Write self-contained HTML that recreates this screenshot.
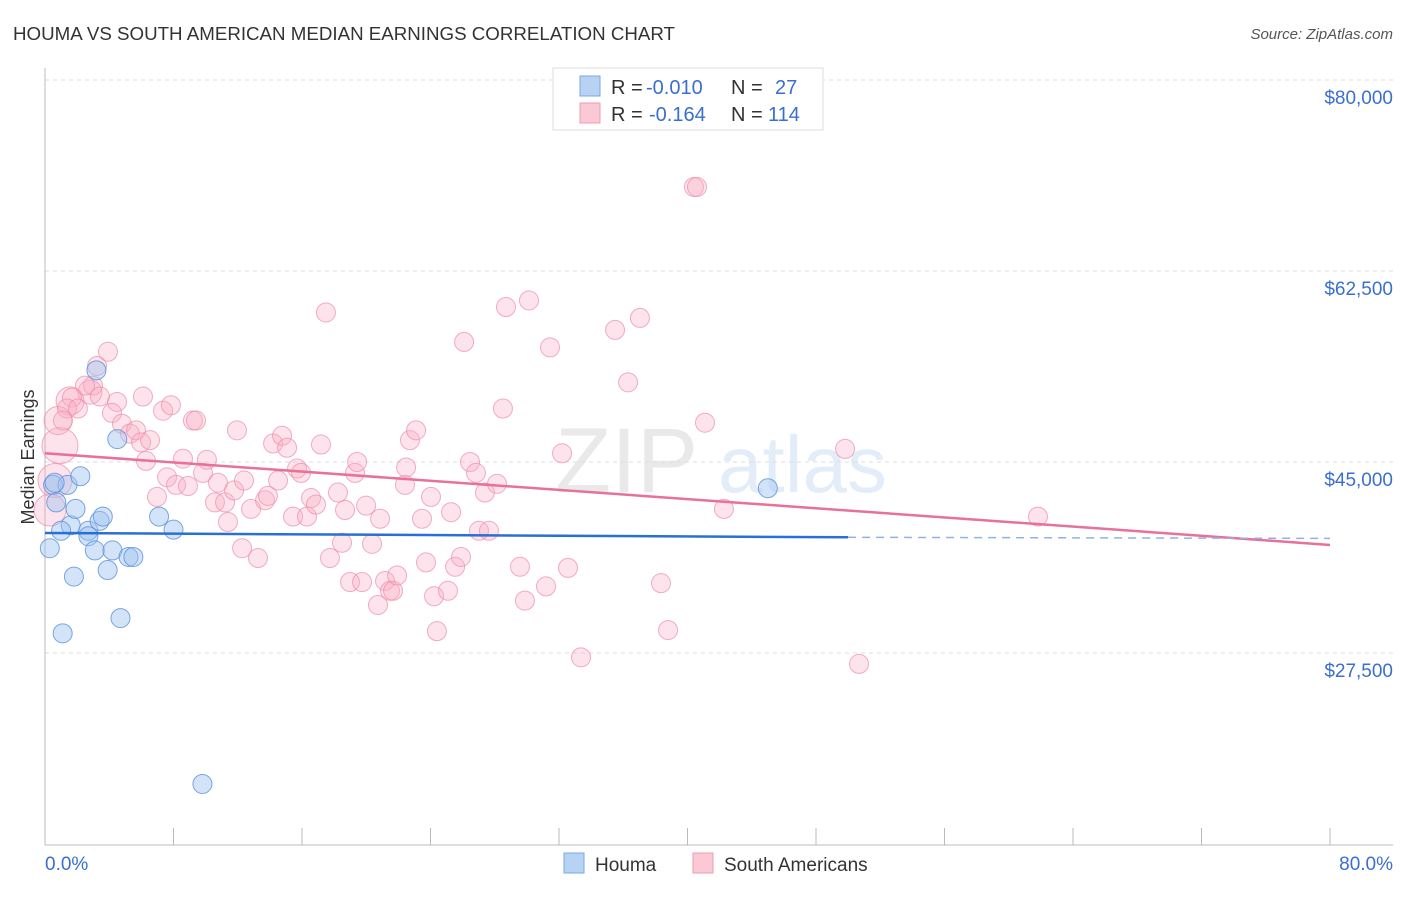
<!DOCTYPE html>
<html><head><meta charset="utf-8"><style>
body{margin:0;background:#fff;font-family:"Liberation Sans",sans-serif;}
svg text{font-family:"Liberation Sans",sans-serif;}
</style></head><body>
<svg id="chart" width="1406" height="892" xmlns="http://www.w3.org/2000/svg">
<text x="13" y="40" font-size="18" fill="#333" textLength="662" lengthAdjust="spacingAndGlyphs">HOUMA VS SOUTH AMERICAN MEDIAN EARNINGS CORRELATION CHART</text>
<text x="1393" y="39" font-size="15" fill="#555" font-style="italic" text-anchor="end">Source: ZipAtlas.com</text>
<g opacity="0.18">
<text x="555" y="492" font-size="92" font-family="Liberation Serif" fill="#888">ZIP</text>
<text x="718" y="492" font-size="80" fill="#6aa0e0">atlas</text>
</g>
<g id="grid"></g>
<g id="axes"></g>
<g id="pts"></g>
<g id="trend"></g>
<text transform="translate(34,457) rotate(-90)" font-size="18" fill="#333" text-anchor="middle">Median Earnings</text>
<g>
<rect x="553" y="68" width="270" height="62" fill="#fff" stroke="#ddd"/>
<rect x="580" y="76" width="20" height="20" fill="#b8d2f4" stroke="#7aa8e6"/>
<rect x="580" y="103" width="20" height="20" fill="#fbc8d6" stroke="#ee9db6"/>
<g font-size="20">
<text x="611" y="94" fill="#333">R =</text>
<text x="646" y="94" fill="#3a6fd0">-0.010</text>
<text x="731" y="94" fill="#333">N =</text>
<text x="775" y="94" fill="#3a6fd0">27</text>
</g>
<g font-size="20">
<text x="611" y="121" fill="#333">R =</text>
<text x="649" y="121" fill="#3a6fd0">-0.164</text>
<text x="731" y="121" fill="#333">N =</text>
<text x="768" y="121" fill="#3a6fd0">114</text>
</g>
</g>
<g>
<rect x="564" y="853" width="20" height="20" fill="#b8d2f4" stroke="#7aa8e6"/>
<text x="595" y="871" font-size="19" fill="#333">Houma</text>
<rect x="693" y="853" width="20" height="20" fill="#fbc8d6" stroke="#ee9db6"/>
<text x="724" y="871" font-size="19" fill="#333">South Americans</text>
</g>
</svg>
<script>
const yTicks=[80000,62500,45000,27500];
const yTickLabels=["$80,000","$62,500","$45,000","$27,500"];
const xEnds=[0,80];
const xEndLabels=["0.0%","80.0%"];
const houmaX=[0.3,0.5,0.7,1.4,1.6,2.2,1.8,1.1,1.0,1.9,2.7,2.7,3.1,3.2,3.4,3.6,3.9,4.2,4.5,4.7,5.2,5.5,7.1,8.0,9.8,45.0,0.6];
const houmaY=[37.1,42.9,41.3,42.9,39.2,43.7,34.5,29.3,38.7,40.7,38.7,38.2,36.9,53.4,39.6,40.0,35.1,36.9,47.1,30.7,36.3,36.3,40.0,38.8,15.5,42.6,43.1];
const saX=[3.92,3.24,2.99,2.49,1.68,1.37,2.05,1.12,3.42,4.48,4.17,4.79,5.29,5.67,5.98,6.54,6.29,6.10,7.35,7.84,6.97,7.60,8.16,8.90,8.59,9.21,9.40,10.08,9.84,10.77,10.58,11.21,11.39,11.77,11.95,12.39,12.27,12.83,13.26,13.70,13.88,14.20,14.51,14.76,15.07,15.44,15.69,15.94,16.31,16.56,16.87,17.18,17.49,17.74,18.24,18.49,18.68,18.99,19.30,19.43,19.74,19.99,20.36,20.73,20.86,21.17,21.48,21.67,21.92,22.41,22.48,22.72,23.10,23.47,23.72,24.03,24.22,24.40,25.09,25.28,25.53,25.90,26.09,26.46,26.83,27.02,27.39,27.64,28.14,28.51,28.70,29.57,29.88,30.13,31.19,31.44,32.19,32.56,33.37,35.49,36.30,37.04,38.35,38.79,40.40,40.59,41.09,42.27,49.81,50.68,61.82];
const saY=[55.1,53.8,52.0,52.0,50.9,49.9,49.9,48.8,51.0,50.5,49.5,48.5,47.6,47.9,46.8,47.0,45.1,51.0,49.7,50.2,41.8,43.6,42.9,42.8,45.3,48.8,48.8,45.2,44.0,43.1,41.3,41.3,39.5,42.4,47.9,43.3,37.1,40.7,36.2,41.5,41.9,46.7,43.3,47.4,46.3,40.0,44.4,44.0,40.0,41.7,41.1,46.6,58.7,36.2,42.2,37.6,40.6,34.0,44.0,45.0,34.0,41.0,37.5,31.9,39.8,34.1,33.2,33.2,34.6,42.9,44.5,47.0,47.9,39.8,35.8,41.8,32.7,29.5,33.2,40.4,35.4,36.3,56.0,45.0,44.0,38.7,42.2,38.7,43.0,49.9,59.2,35.4,32.3,59.8,33.6,55.5,45.8,35.3,27.1,57.1,52.3,58.2,33.9,29.6,70.2,70.2,48.6,40.7,46.2,26.5,40.0];
const saBigX=[0.93,0.62,0.31,1.56,0.81,2.8];
const saBigY=[46.5,43.3,40.6,50.6,48.8,51.4];
const saBigWeight=[18,17,16,14,14,12];
const saTrendX=[0,80];
const saTrendY=[45.8,37.4];
const houmaTrendX=[0,50,80];
const houmaTrendY=[38.5,38.1,38.0];

const NS="http://www.w3.org/2000/svg";
const X=p=>45+p*(1330-45)/80;
const Y=k=>80+(80-k)*191/17.5;
function mk(t,a,parent){const e=document.createElementNS(NS,t);for(const k in a)e.setAttribute(k,a[k]);document.getElementById(parent).appendChild(e);return e;}
yTicks.forEach((v,i)=>{
  const y=Y(v/1000);
  const g=mk('line',{x1:45,x2:1393,y1:y,y2:y,stroke:'#ddd','stroke-dasharray':'4,4'},'grid');
  
  
  const t=mk('text',{x:1393,y:y+24,'font-size':19,fill:'#3a6fd0','text-anchor':'end'},'axes');
  t.textContent=yTickLabels[i];
  
  
});
const ax=mk('line',{x1:45,x2:1393,y1:845,y2:845,stroke:'#bbb'},'axes');


const ay=mk('line',{x1:45,x2:45,y1:68,y2:845,stroke:'#bbb'},'axes');


for(let p=0;p<=80;p+=8){
  const tk=mk('line',{x1:X(p),x2:X(p),y1:828,y2:845,stroke:'#bbb'},'axes');
  
  
}
xEnds.forEach((p,i)=>{
  const t=mk('text',{x:i==0?X(p):1393,y:870,'font-size':19,fill:'#3a6fd0','text-anchor':i==0?'start':'end'},'axes');
  t.textContent=xEndLabels[i];
  
  
});
saBigX.forEach((p,i)=>{
  const c=mk('circle',{cx:X(p),cy:Y(saBigY[i]),r:saBigWeight[i],fill:'rgba(248,175,198,0.35)',stroke:'rgba(236,140,170,0.7)'},'pts');
  
  
});
saX.forEach((p,i)=>{
  const c=mk('circle',{cx:X(p),cy:Y(saY[i]),r:9.5,fill:'rgba(248,175,198,0.35)',stroke:'rgba(236,140,170,0.7)'},'pts');
  
  
});
houmaX.forEach((p,i)=>{
  const c=mk('circle',{cx:X(p),cy:Y(houmaY[i]),r:9.5,fill:'rgba(160,196,240,0.45)',stroke:'rgba(90,145,220,0.8)'},'pts');
  
  
});
const st=mk('line',{x1:X(saTrendX[0]),y1:Y(saTrendY[0]),x2:X(saTrendX[1]),y2:Y(saTrendY[1]),stroke:'#e8709a','stroke-width':2.5},'trend');


const ht=mk('line',{x1:X(houmaTrendX[0]),y1:Y(houmaTrendY[0]),x2:X(houmaTrendX[1]),y2:Y(houmaTrendY[1]),stroke:'#2a6fd6','stroke-width':2.5},'trend');


const hd=mk('line',{x1:X(houmaTrendX[1]),y1:Y(houmaTrendY[1]),x2:X(houmaTrendX[2]),y2:Y(houmaTrendY[2]),stroke:'#8fb2e6','stroke-width':1.5,'stroke-dasharray':'8,6'},'trend');


</script>
</body></html>
